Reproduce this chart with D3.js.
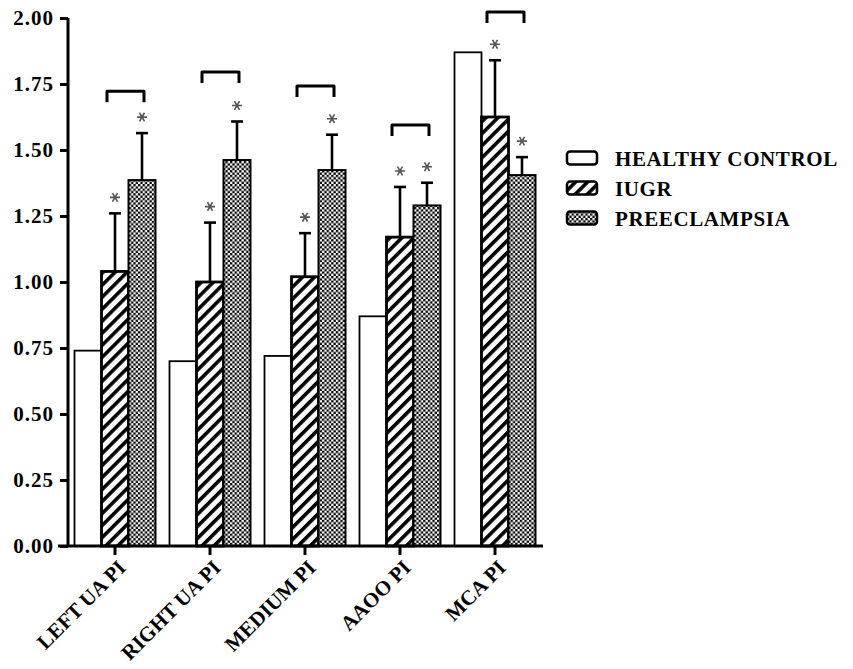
<!DOCTYPE html>
<html>
<head>
<meta charset="utf-8">
<script src="https://cdn.jsdelivr.net/npm/d3@7"></script>
<style>
    body { margin: 0; background: #fff; }
    svg { display: block; }
    text { font-family: "Liberation Serif", "Times New Roman", "DejaVu Serif", serif; }
</style>
</head>
<body>
<div id="chart"></div>
<script>
"use strict";

const categories = ["LEFT UA PI", "RIGHT UA PI", "MEDIUM PI", "AAOO PI", "MCA PI"];
const seriesNames = ["HEALTHY CONTROL", "IUGR", "PREECLAMPSIA"];
const healthyValues = [0.74, 0.70, 0.72, 0.87, 1.87];
const iugrValues = [1.04, 1.00, 1.02, 1.17, 1.625];
const iugrErrors = [0.22, 0.225, 0.165, 0.19, 0.215];
const preValues = [1.386, 1.462, 1.424, 1.29, 1.405];
const preErrors = [0.178, 0.146, 0.134, 0.086, 0.068];
const bracketValues = [1.723, 1.795, 1.742, 1.595, 2.023];
const yTicks = [0, 0.25, 0.5, 0.75, 1, 1.25, 1.5, 1.75, 2];

const width = 853, height = 669;
const svg = d3.select("#chart").append("svg")
    .attr("width", width)
    .attr("height", height);

// patterns
const defs = svg.append("defs");
const hatch = defs.append("pattern")
    .attr("id", "hatch")
    .attr("patternUnits", "userSpaceOnUse")
    .attr("width", 8.5)
    .attr("height", 8.5)
    .attr("patternTransform", "rotate(45)");
hatch.append("rect").attr("width", 8.5).attr("height", 8.5).attr("fill", "#fff");
hatch.append("rect").attr("width", 3.6).attr("height", 8.5).attr("fill", "#000");

const checker = defs.append("pattern")
    .attr("id", "checker")
    .attr("patternUnits", "userSpaceOnUse")
    .attr("width", 4.6)
    .attr("height", 4.6);
checker.append("rect").attr("width", 4.6).attr("height", 4.6).attr("fill", "#fff");
checker.append("rect").attr("width", 2.3).attr("height", 2.3).attr("fill", "#000");
checker.append("rect").attr("x", 2.3).attr("y", 2.3).attr("width", 2.3).attr("height", 2.3).attr("fill", "#000");

const fills = ["#fff", "url(#hatch)", "url(#checker)"];
const strokeWidths = [1.8, 2.8, 2];

const x = d3.scaleBand()
    .domain(categories)
    .range([67.5, 542.5])
    .paddingInner(14 / 95)
    .paddingOuter(7 / 95);

const xs = d3.scaleBand()
    .domain(seriesNames)
    .range([0, x.bandwidth()]);

const y = d3.scaleLinear()
    .domain([0, 2])
    .range([546, 18]);

const rows = categories.map((c, i) => [
    { cat: c, s: seriesNames[0], v: healthyValues[i], e: 0 },
    { cat: c, s: seriesNames[1], v: iugrValues[i], e: iugrErrors[i] },
    { cat: c, s: seriesNames[2], v: preValues[i], e: preErrors[i] }
]).flat();

const barCenter = d => x(d.cat) + xs(d.s) + xs.bandwidth() / 2;

// error bars (drawn below bars)
const errRows = rows.filter(d => d.e > 0);
svg.append("g").selectAll("line")
    .data(errRows)
    .enter()
    .append("line")
    .attr("x1", barCenter)
    .attr("x2", barCenter)
    .attr("y1", d => y(d.v))
    .attr("y2", d => y(d.v + d.e))
    .attr("stroke", "#000")
    .attr("stroke-width", 2.6);

svg.append("g").selectAll("line")
    .data(errRows)
    .enter()
    .append("line")
    .attr("x1", d => barCenter(d) - 6)
    .attr("x2", d => barCenter(d) + 6)
    .attr("y1", d => y(d.v + d.e))
    .attr("y2", d => y(d.v + d.e))
    .attr("stroke", "#000")
    .attr("stroke-width", 2.6);

// bars
svg.append("g").selectAll("rect")
    .data(rows)
    .enter()
    .append("rect")
    .attr("x", d => x(d.cat) + xs(d.s))
    .attr("y", d => y(d.v))
    .attr("width", xs.bandwidth())
    .attr("height", d => y(0) - y(d.v))
    .attr("fill", d => fills[seriesNames.indexOf(d.s)])
    .attr("stroke", "#000")
    .attr("stroke-width", d => strokeWidths[seriesNames.indexOf(d.s)]);

// asterisks, drawn as symbols so no emoji font kicks in
const star = d3.symbol().type(d3.symbolAsterisk).size(70);
svg.append("g").selectAll("path")
    .data(errRows)
    .enter()
    .append("path")
    .attr("d", star)
    .attr("transform", d => `translate(${barCenter(d)},${y(d.v + d.e) - 16}) rotate(90)`)
    .attr("fill", "none")
    .attr("stroke", "#555")
    .attr("stroke-width", 1.6);

// brackets
svg.append("g").selectAll("path")
    .data(categories)
    .enter()
    .append("path")
    .attr("d", (c, i) => {
        let cx = x(c) + x.bandwidth() / 2;
        let yy = y(bracketValues[i]);
        return `M${cx - 8},${yy + 11}V${yy}H${cx + 29}V${yy + 11}`;
    })
    .attr("fill", "none")
    .attr("stroke", "#000")
    .attr("stroke-width", 3)
    .attr("stroke-linejoin", "round");

// y axis
const yAxis = svg.append("g")
    .attr("transform", "translate(68,0)")
    .call(d3.axisLeft(y).tickValues(yTicks).tickFormat(d3.format(".2f")).tickSize(8).tickPadding(6));
yAxis.attr("font-family", null);
yAxis.select(".domain").attr("stroke-width", 3).attr("d", `M0,${y(2)}V${y(0)}`);
yAxis.selectAll(".tick line").attr("stroke-width", 3);
yAxis.selectAll(".tick text")
    .attr("font-size", 21)
    .attr("font-weight", "bold")
    .attr("letter-spacing", 1)
    .attr("fill", "#000");

// x axis
const xAxis = svg.append("g")
    .attr("transform", `translate(0,${y(0)})`)
    .call(d3.axisBottom(x).tickSize(9).tickSizeOuter(0));
xAxis.attr("font-family", null);
xAxis.select(".domain").attr("stroke-width", 3).attr("d", "M58,0H543");
xAxis.selectAll(".tick line").attr("stroke-width", 3);
xAxis.selectAll(".tick text")
    .attr("font-size", 21)
    .attr("font-weight", "bold")
    .attr("fill", "#000")
    .attr("text-anchor", "end")
    .attr("dy", 0)
    .attr("y", 0)
    .attr("transform", "translate(12,23) rotate(-45)");

// legend
const legend = svg.append("g").attr("transform", "translate(567,158)");
const legendItems = legend.selectAll("g")
    .data(seriesNames)
    .enter()
    .append("g")
    .attr("transform", (d, i) => `translate(0,${i * 30})`);
legendItems.append("rect")
    .attr("x", 0)
    .attr("y", -6.5)
    .attr("width", 30)
    .attr("height", 13)
    .attr("rx", 3)
    .attr("fill", (d, i) => fills[i])
    .attr("stroke", "#000")
    .attr("stroke-width", 2.5);
legendItems.append("text")
    .attr("x", 48)
    .attr("y", 7.5)
    .attr("font-size", 21)
    .attr("font-weight", "bold")
    .attr("letter-spacing", 0.6)
    .text(d => d);
</script>
</body>
</html>
